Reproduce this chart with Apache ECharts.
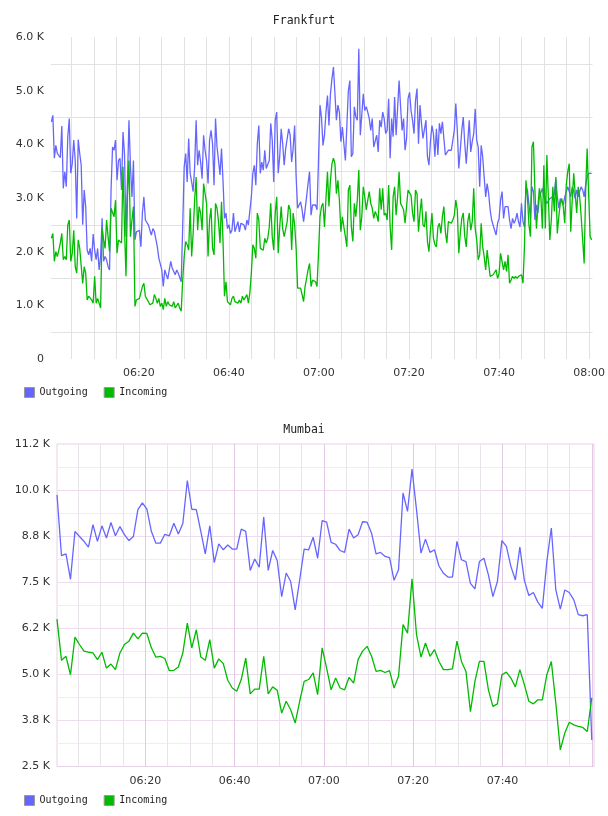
<!DOCTYPE html>
<html>
<head>
<meta charset="utf-8">
<script src="https://cdn.jsdelivr.net/npm/echarts@6/dist/echarts.min.js"></script>
<style>
  html, body { margin: 0; padding: 0; background: #fff; }
  #chart { width: 608px; height: 816px; }
</style>
</head>
<body>
<div id="chart"></div>
<script>
// minutes after 06:00
const fraStart = 0.58
const fraEnd = 120.55
const mumStart = 0.2
const mumEnd = 120.0

const xLabels = ['06:20', '06:40', '07:00', '07:20', '07:40', '08:00']
const fraYLabels = ['0', '1.0 K', '2.0 K', '3.0 K', '4.0 K', '5.0 K', '6.0 K']
const mumYLabels = ['2.5 K', '3.8 K', '5.0 K', '6.2 K', '7.5 K', '8.8 K', '10.0 K', '11.2 K']

const fraOutgoing = [
  4420, 4540, 3740, 3980, 3830, 3800, 3750, 4340, 3180, 3490,
  3210, 4140, 4480, 3460, 3640, 4080, 3700, 2620, 4090, 3830,
  3610, 2500, 3150, 2840, 2030, 1940, 2060, 1820, 2330, 2030,
  1850, 2060, 1660, 1910, 2620, 1820, 1910, 1850, 1720, 1660,
  3150, 3950, 3890, 4080, 3330, 3700, 3740, 3150, 4230, 3830,
  2280, 3330, 4450, 3580, 3020, 3700, 2220, 2370, 2340, 2400,
  2090, 2720, 3020, 2590, 2560, 2500, 2400, 2310, 2430, 2380,
  2400, 2090, 1880, 1850, 1660, 1350, 1660, 1570, 1490, 1660,
  1820, 1690, 1690, 1570, 1660, 1600, 1630, 1440, 2460, 3580,
  3830, 3300, 4110, 3460, 3300, 3120, 3580, 4450, 3610, 3890,
  3670, 3360, 4170, 3890, 3700, 3270, 4080, 4260, 4010, 3240,
  4480, 3950, 3700, 3430, 3920, 3330, 2620, 2720, 2430, 2500,
  2340, 2400, 2720, 2370, 2400, 2560, 2370, 2530, 2560, 2500,
  2400, 2590, 2500, 2500, 3020, 3460, 3610, 3240, 4010, 4350,
  3460, 3670, 3520, 3890, 3550, 3550, 3700, 4390, 4080, 3300,
  4450, 4600, 3460, 3770, 4290, 4010, 3610, 3920, 3950, 4290,
  4170, 3670, 3920, 4350, 3400, 2810, 2810, 2930, 2780, 2560,
  2780, 3020, 3270, 3490, 2680, 2870, 2840, 2870, 2780, 3700,
  4730,
  4500, 3980, 4170, 4600, 4910, 4350, 4940, 5220, 5440, 5410,
  4450, 4730, 4600, 4050, 4320, 4010, 3700, 4350, 5000, 5190,
  3770, 3830, 4700, 4510, 4450, 5780, 4170, 4200, 4940, 4630,
  4700, 4600, 4480, 4260, 4480, 3950, 3950, 4170, 3860, 4450,
  4320, 4600, 4480, 4200, 4260, 4850, 3740, 4480, 4140, 4880,
  4170, 4170, 5190, 4700, 4260, 4480, 3890, 4110, 4850, 4970,
  4630, 4450, 4200, 4820, 5040, 4010, 4730, 4390, 4110, 4110,
  4450, 3770, 3610, 4050, 4350, 4200, 3770, 4290, 3800, 4390,
  4200, 4420, 4450, 3800, 3770, 3890, 3890, 3890, 3920, 4260,
  4760,
  4260, 3550, 3890, 4260, 4510, 4010, 3640, 4050, 4450, 3860,
  4050, 4200, 4660, 4080, 3950, 3210, 3980, 3770, 3390, 3020,
  3270, 3080, 2780, 2590, 2620, 2400, 2310, 2530, 2620, 2960,
  3120, 2620, 2840, 2840, 2840, 2590, 2430, 2620, 2530, 2590,
  2720, 2560, 2460, 2900, 2560, 2460, 3210, 3150, 3150, 2620,
  3210, 3120, 2590, 2870, 2720, 3020, 3020, 3180, 3020, 2960,
  2900, 2930, 2990, 2960, 3020, 3080, 3360, 3020, 2810, 2990,
  2960, 2870, 3020, 3050, 3210, 3120, 3020, 3210, 3120, 2990,
  3150, 3020, 3120, 3210, 3150, 3020, 3240, 3390, 3460, 3460,
  3460
]

const fraIncoming = [
  2250, 2340, 1820, 2000, 1910, 2030, 2160, 2340, 1850, 1910,
  1850, 2500, 2590, 1820, 1970, 2400, 1720, 1600, 2220, 2060,
  2030, 1410, 1720, 1600, 1100, 1170, 1200, 1100, 1040, 1540,
  1040, 1130, 1040, 950, 2430, 2220, 2060, 2590, 2280, 2000,
  2810, 2840, 2650, 2960, 1970, 2220, 2220, 2160, 3580, 2460,
  1540, 3020, 3700, 2280, 2590, 2840, 980, 1100, 1070, 1130,
  1100, 1350, 1410, 1170, 1170, 1070, 1010, 980, 1040, 1200,
  1130, 1040, 1130, 980, 1040, 920, 1130, 980, 1070, 1010,
  1040, 980, 1070, 950, 980, 1040, 950, 890, 1470, 1910,
  2190, 2130, 2030, 2810, 1910, 2340, 2960, 3390, 2400, 2840,
  2720, 2400, 3270, 3080, 2900, 1910, 2590, 2810, 2060, 1940,
  2900, 2810, 2560, 2160, 2930, 2220, 1170, 1440, 1070, 1040,
  1010, 1130, 1170, 1070, 1100, 1040, 1100, 1040, 1170, 1100,
  1070, 1200, 1040, 1230, 1600, 2130, 2060, 1880, 2720, 2590,
  2060, 2060, 2030, 2250, 2160, 2250, 2460, 2900, 2280, 2030,
  2720, 3020, 1970, 2460, 2840, 2430, 2280, 2310, 2560, 2870,
  2780, 2030, 2720, 2500, 2060, 1320, 1290, 1320, 1200, 1070,
  1350, 1500, 1660, 1780, 1350, 1470, 1470, 1440, 1350, 1970,
  2650,
  2840, 2900, 2460, 2990, 3490, 2840, 3330, 3640, 3740, 3640,
  3080, 3330, 2960, 2370, 2650, 2460, 2280, 2090, 3150, 3240,
  2460, 2190, 2900, 2650, 2960, 3520, 2400, 2650, 3210, 3020,
  2780, 2960, 3120, 2900, 2810, 2620, 2750, 2680, 2560, 3180,
  2780, 3180, 2680, 2720, 2590, 3240, 2460, 2030, 3020, 3210,
  2680, 3020, 3490, 2900, 2840, 2780, 2530, 2840, 3150, 3180,
  3050, 2720, 2560, 3150, 3080, 2370, 2720, 2990, 2500, 2460,
  2750, 2190, 2000, 2400, 2720, 2250, 2130, 2090, 2460, 2530,
  2340, 2650, 2840, 2370, 2160, 2560, 2560, 2530, 2590, 2680,
  2960,
  2780, 1970, 2340, 2620, 2720, 2280, 2090, 2560, 2720, 2400,
  2560, 3180, 2430, 2220, 1850, 1940, 2530, 2090, 1910, 1660,
  2030, 1780, 1540, 1540, 1570, 1540, 1660, 1500, 1600, 1970,
  1970, 1660, 1820, 1630, 1940, 1410, 1470, 1540, 1500, 1540,
  1500, 1540, 1570, 1570, 1410, 2090, 3330, 3020, 2500, 2280,
  3950, 4050, 3150, 2430, 2840, 3180, 3020, 2430, 3610, 2430,
  3800, 3020, 2220, 2590, 3210, 2750, 3390, 2340, 2650, 2900,
  2990, 2840, 2530, 3240, 3490, 3640, 2370, 2960, 3460, 3080,
  2720, 3210, 3020, 2650, 2220, 1780, 3150, 3920, 3080, 2280,
  2220
]

const mumOutgoing = [
  9870, 8220, 8270, 7580, 8880, 8740, 8610, 8450, 9060, 8610,
  9030, 8700, 9120, 8760, 9010, 8790, 8630, 8740, 9470, 9650,
  9480, 8880, 8560, 8560, 8800, 8760, 9100, 8810, 9090, 10260,
  9480, 9470, 8880, 8270, 9030, 8030, 8540, 8380, 8510, 8400,
  8400, 8940, 8880, 7820, 8130, 7910, 9270, 7820, 8360, 8090,
  7110, 7750, 7520, 6750, 7560, 8400, 8380, 8720, 8150, 9170,
  9130, 8580, 8530, 8360, 8310, 8940, 8700, 8790, 9140, 9130,
  8830, 8270, 8310, 8200, 8170, 7550, 7840, 9920, 9420, 10570,
  9470, 8290, 8670, 8310, 8380, 7940, 7740, 7640, 7640, 8610,
  8110, 8060, 7470, 7320, 8060, 8150, 7700, 7110, 7520, 8630,
  8470, 7930, 7560, 8450, 7550, 7140, 7220, 6960, 6790, 8060,
  8970, 7290, 6770, 7290, 7220, 7020, 6620, 6590, 6620, 3220
]

const mumIncoming = [
  6500, 5380, 5490, 4990, 6010, 5810, 5630, 5600, 5580, 5400,
  5600, 5170, 5280, 5130, 5580, 5810, 5900, 6120, 5960, 6120,
  6110, 5720, 5470, 5490, 5430, 5100, 5110, 5200, 5580, 6390,
  5720, 6210, 5470, 5380, 5940, 5170, 5420, 5290, 4840, 4630,
  4540, 4860, 5440, 4470, 4600, 4600, 5490, 4470, 4660, 4570,
  3950, 4270, 4040, 3680, 4270, 4810, 4860, 5040, 4450, 5720,
  5170, 4580, 4900, 4630, 4580, 4920, 4760, 5400, 5630, 5760,
  5490, 5080, 5110, 5050, 5100, 4630, 4950, 6350, 6120, 7590,
  6080, 5470, 5850, 5490, 5670, 5350, 5130, 5130, 5150, 5900,
  5350, 5080, 3990, 4810, 5350, 5350, 4580, 4130, 4200, 4990,
  5060, 4900, 4660, 5130, 4720, 4270, 4200, 4310, 4310, 4990,
  5350, 4220, 2950, 3410, 3700, 3630, 3590, 3560, 3450, 4360
]

const BLUE = '#6666ff'
const GREEN = '#00bb00'
const MONO = 'DejaVu Sans Mono'
const SANS = 'DejaVu Sans'

function toPoints(vals, t0, t1) {
  const step = (t1 - t0) / (vals.length - 1)
  return vals.map((v, i) => [t0 + i * step, v])
}

function xFormatter(hideLast) {
  return function (v) {
    const r = Math.round(v)
    if (Math.abs(v - r) > 1e-6 || r % 20 !== 0 || r <= 0) return ''
    if (hideLast && r === 120) return ''
    return xLabels[r / 20 - 1] || ''
  }
}

function legendAt(top) {
  return {
    data: ['Outgoing', 'Incoming'],
    left: 24,
    top: top,
    padding: 0,
    icon: 'rect',
    itemWidth: 10,
    itemHeight: 10,
    itemGap: 16,
    itemStyle: { borderColor: '#999', borderWidth: 1 },
    textStyle: { fontFamily: MONO, fontSize: 10, color: '#222' }
  }
}

function titleAt(text, top) {
  return {
    text: text,
    left: 'center',
    top: top,
    padding: 0,
    textStyle: { fontFamily: MONO, fontSize: 11.5, fontWeight: 'normal', color: '#222' }
  }
}

const chart = echarts.init(document.getElementById('chart'), null, { renderer: 'canvas' })

const option = {
  animation: false,
  backgroundColor: '#fff',
  title: [titleAt('Frankfurt', 15), titleAt('Mumbai', 424)],
  legend: [legendAt(387), legendAt(795)],
  grid: [
    { left: 51, right: 14, top: 37, height: 322, show: false },
    { left: 57, right: 14, top: 444, height: 322.5, show: true, borderColor: '#e6d2e6', borderWidth: 1 }
  ],
  xAxis: [
    {
      type: 'value',
      gridIndex: 0,
      min: 0.5,
      max: 120.75,
      minInterval: 20,
      maxInterval: 20,
      axisLine: { show: false },
      axisTick: { show: false },
      axisLabel: {
        formatter: xFormatter(false),
        fontFamily: SANS,
        fontSize: 11,
        color: '#333',
        margin: 9
      },
      splitLine: { show: true, showMinLine: false, showMaxLine: false, lineStyle: { color: '#e2e2e2', width: 1 } },
      minorTick: { show: false, splitNumber: 4 },
      minorSplitLine: { show: true, lineStyle: { color: '#e2e2e2', width: 1 } }
    },
    {
      type: 'value',
      gridIndex: 1,
      min: 0.2,
      max: 120.5,
      minInterval: 20,
      maxInterval: 20,
      axisLine: { show: false },
      axisTick: { show: false },
      axisLabel: {
        formatter: xFormatter(true),
        fontFamily: SANS,
        fontSize: 11,
        color: '#333',
        margin: 9
      },
      splitLine: { show: true, showMinLine: false, showMaxLine: false, lineStyle: { color: '#e2c8e2', width: 1 } },
      minorTick: { show: false, splitNumber: 4 },
      minorSplitLine: { show: true, lineStyle: { color: '#ebe3eb', width: 1 } }
    }
  ],
  yAxis: [
    {
      type: 'value',
      gridIndex: 0,
      min: 0,
      max: 6000,
      interval: 1000,
      axisLine: { show: false },
      axisTick: { show: false },
      axisLabel: {
        formatter: (v) => fraYLabels[Math.round(v / 1000)],
        fontFamily: SANS,
        fontSize: 11,
        color: '#333',
        margin: 7
      },
      splitLine: { show: false },
      minorTick: { show: false, splitNumber: 2 },
      minorSplitLine: { show: true, lineStyle: { color: '#e2e2e2', width: 1 } }
    },
    {
      type: 'value',
      gridIndex: 1,
      min: 2500,
      max: 11250,
      interval: 1250,
      axisLine: { show: false },
      axisTick: { show: false },
      axisLabel: {
        formatter: (v) => mumYLabels[Math.round((v - 2500) / 1250)],
        fontFamily: SANS,
        fontSize: 11,
        color: '#333',
        margin: 7
      },
      splitLine: { show: true, showMinLine: false, showMaxLine: false, lineStyle: { color: '#eedcee', width: 1 } },
      minorTick: { show: false, splitNumber: 2 },
      minorSplitLine: { show: true, lineStyle: { color: '#f2ebf2', width: 1 } }
    }
  ],
  series: [
    {
      name: 'Outgoing',
      type: 'line',
      xAxisIndex: 0,
      yAxisIndex: 0,
      showSymbol: false,
      color: BLUE,
      lineStyle: { width: 1.3, color: BLUE },
      data: toPoints(fraOutgoing, fraStart, fraEnd)
    },
    {
      name: 'Incoming',
      type: 'line',
      xAxisIndex: 0,
      yAxisIndex: 0,
      showSymbol: false,
      color: GREEN,
      lineStyle: { width: 1.3, color: GREEN },
      data: toPoints(fraIncoming, fraStart, fraEnd)
    },
    {
      name: 'Outgoing',
      type: 'line',
      xAxisIndex: 1,
      yAxisIndex: 1,
      showSymbol: false,
      color: BLUE,
      lineStyle: { width: 1.3, color: BLUE },
      data: toPoints(mumOutgoing, mumStart, mumEnd)
    },
    {
      name: 'Incoming',
      type: 'line',
      xAxisIndex: 1,
      yAxisIndex: 1,
      showSymbol: false,
      color: GREEN,
      lineStyle: { width: 1.3, color: GREEN },
      data: toPoints(mumIncoming, mumStart, mumEnd)
    }
  ]
}

chart.setOption(option)
</script>
</body>
</html>
